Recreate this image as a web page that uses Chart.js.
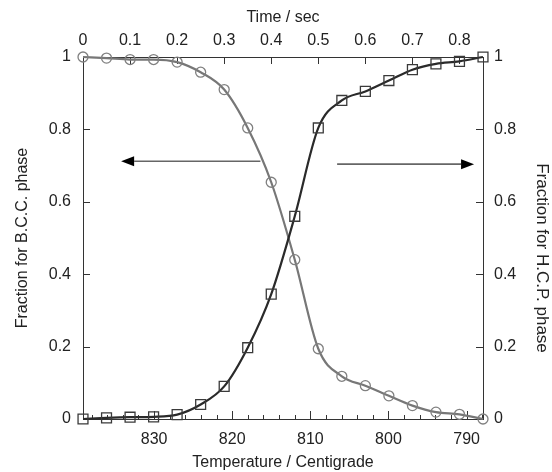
<!DOCTYPE html>
<html>
<head>
<meta charset="utf-8">
<script src="https://cdn.jsdelivr.net/npm/chart.js@4/dist/chart.umd.min.js"></script>
<style>
  html, body { margin: 0; padding: 0; background: #fff; }
  #c { display: block; }
</style>
</head>
<body>
<canvas id="c" width="552" height="472"></canvas>
<script>
// ---- data ----
const timeSec = [0, 0.05, 0.1, 0.15, 0.2, 0.25, 0.3, 0.35, 0.4, 0.45, 0.5, 0.55, 0.6, 0.65, 0.7, 0.75, 0.8, 0.85];
const bccFraction = [1.0, 0.997, 0.993, 0.993, 0.986, 0.958, 0.910, 0.804, 0.654, 0.440, 0.194, 0.118, 0.092, 0.064, 0.037, 0.019, 0.013, 0.0];
const hcpFraction = [0.0, 0.003, 0.005, 0.006, 0.012, 0.040, 0.090, 0.197, 0.345, 0.560, 0.804, 0.880, 0.905, 0.935, 0.965, 0.981, 0.988, 1.0];
const fractionTicks = [0, 0.2, 0.4, 0.6, 0.8, 1];
const timeTicks = [0, 0.1, 0.2, 0.3, 0.4, 0.5, 0.6, 0.7, 0.8];
const temperatureLabels = [830, 820, 810, 800, 790];
const timeRange = [0, 0.85];
const temperatureRange = [787.9, 839.1];
const rightTitle = 'Fraction for H.C.P. phase';
// arrows in data units: [time, fraction] -> [time, fraction]
const arrows = [
  { from: [0.377, 0.712], to: [0.081, 0.712] },
  { from: [0.540, 0.704], to: [0.831, 0.704] }
];

const FONT = { family: '"Liberation Sans", Arial, sans-serif', size: 16, lineHeight: 1.2 };
const TXT = '#222';
const AX = '#333';

function pts(ys) { return timeSec.map((t, i) => ({ x: t, y: ys[i] })); }

const inwardTicks = {
  id: 'inwardTicks',
  beforeDatasetsDraw(chart) {
    const { ctx, chartArea: a, scales } = chart;
    ctx.save();
    ctx.strokeStyle = AX;
    ctx.lineWidth = 1;
    ctx.beginPath();
    scales.xTime.ticks.forEach(t => {
      const x = Math.round(scales.xTime.getPixelForValue(t.value)) + 0.5;
      ctx.moveTo(x, a.top); ctx.lineTo(x, a.top + 7);
    });
    scales.xTemp.ticks.forEach(t => {
      const x = Math.round(scales.xTemp.getPixelForValue(t.value)) + 0.5;
      const major = Math.round(t.value) % 10 === 0;
      ctx.moveTo(x, a.bottom); ctx.lineTo(x, a.bottom - (major ? 8 : 4));
    });
    scales.yL.ticks.forEach(t => {
      const y = Math.round(scales.yL.getPixelForValue(t.value)) + 0.5;
      ctx.moveTo(a.left, y); ctx.lineTo(a.left + 7, y);
    });
    scales.yR.ticks.forEach(t => {
      const y = Math.round(scales.yR.getPixelForValue(t.value)) + 0.5;
      ctx.moveTo(a.right, y); ctx.lineTo(a.right - 7, y);
    });
    ctx.stroke();
    ctx.restore();
  },
  afterDraw(chart) {
    // right axis title (rotated, reading top to bottom)
    const { ctx, chartArea: a } = chart;
    const s = chart.scales.yR;
    ctx.save();
    ctx.fillStyle = TXT;
    ctx.font = '17px "Liberation Sans", Arial, sans-serif';
    ctx.textAlign = 'center';
    ctx.textBaseline = 'middle';
    ctx.translate(s.right - 10.5, (a.top + a.bottom) / 2 + 20);
    ctx.rotate(Math.PI / 2);
    ctx.fillText(rightTitle, 0, 0);
    ctx.restore();
  }
};

const arrowPlugin = {
  id: 'arrowPlugin',
  afterDatasetsDraw(chart) {
    const { ctx, scales } = chart;
    const sx = scales.xTime, sy = scales.yL;
    ctx.save();
    arrows.forEach(ar => {
      const x0 = sx.getPixelForValue(ar.from[0]), y0 = sy.getPixelForValue(ar.from[1]);
      const x1 = sx.getPixelForValue(ar.to[0]), y1 = sy.getPixelForValue(ar.to[1]);
      const ang = Math.atan2(y1 - y0, x1 - x0);
      const L = 13, W = 5;
      const bx = x1 - L * Math.cos(ang), by = y1 - L * Math.sin(ang);
      ctx.strokeStyle = '#666';
      ctx.lineWidth = 1.6;
      ctx.beginPath();
      ctx.moveTo(x0, y0); ctx.lineTo(bx, by);
      ctx.stroke();
      ctx.fillStyle = '#000';
      ctx.beginPath();
      ctx.moveTo(x1, y1);
      ctx.lineTo(bx + W * Math.sin(ang), by - W * Math.cos(ang));
      ctx.lineTo(bx - W * Math.sin(ang), by + W * Math.cos(ang));
      ctx.closePath();
      ctx.fill();
    });
    ctx.restore();
  }
};

const axisCommon = {
  grid: { display: true, drawOnChartArea: false, drawTicks: false },
  border: { display: true, color: AX, width: 1 },
};

new Chart(document.getElementById('c'), {
  type: 'line',
  data: {
    datasets: [
      {
        label: 'H.C.P.',
        data: pts(hcpFraction),
        xAxisID: 'xTime', yAxisID: 'yR',
        borderColor: '#2a2a2a', borderWidth: 2.2,
        pointStyle: 'rect', pointRadius: 7, pointBorderWidth: 1.3,
        pointBorderColor: '#3a3a3a', pointBackgroundColor: 'rgba(0,0,0,0)',
        cubicInterpolationMode: 'monotone', clip: false
      },
      {
        label: 'B.C.C.',
        data: pts(bccFraction),
        xAxisID: 'xTime', yAxisID: 'yL',
        borderColor: '#777', borderWidth: 2.2,
        pointStyle: 'circle', pointRadius: 5, pointBorderWidth: 1.3,
        pointBorderColor: '#808080', pointBackgroundColor: 'rgba(0,0,0,0)',
        cubicInterpolationMode: 'monotone', clip: false
      }
    ]
  },
  options: {
    responsive: false,
    animation: false,
    layout: { padding: 0 },
    plugins: { legend: { display: false }, tooltip: { enabled: false } },
    scales: {
      xTime: {
        type: 'linear', position: 'top',
        min: timeRange[0], max: timeRange[1],
        afterBuildTicks: s => { s.ticks = timeTicks.map(v => ({ value: v })); },
        afterFit: s => { s.height = 57; },
        ticks: { font: FONT, color: TXT, padding: 7, maxRotation: 0, autoSkip: false,
                 callback: v => String(v) },
        title: { display: true, text: 'Time / sec', font: FONT, color: TXT, padding: { top: 8, bottom: 0 } },
        ...axisCommon
      },
      xTemp: {
        type: 'linear', position: 'bottom', reverse: true,
        min: temperatureRange[0], max: temperatureRange[1],
        afterBuildTicks: s => {
          const arr = [];
          for (let v = 788; v <= 838; v += 2) arr.push({ value: v });
          s.ticks = arr;
        },
        afterFit: s => { s.height = 53; },
        ticks: { font: FONT, color: TXT, padding: 11, maxRotation: 0, autoSkip: false,
                 callback: v => temperatureLabels.includes(Math.round(v)) ? String(Math.round(v)) : '' },
        title: { display: true, text: 'Temperature / Centigrade', font: FONT, color: TXT, padding: { top: 0, bottom: 0 } },
        ...axisCommon
      },
      yL: {
        type: 'linear', position: 'left', min: 0, max: 1,
        afterBuildTicks: s => { s.ticks = fractionTicks.map(v => ({ value: v })); },
        afterFit: s => { s.width = 83; },
        ticks: { font: FONT, color: TXT, padding: 12, callback: v => String(v) },
        title: { display: true, text: 'Fraction for B.C.C. phase', font: FONT, color: TXT, padding: { top: 13, bottom: 0 } },
        ...axisCommon
      },
      yR: {
        type: 'linear', position: 'right', min: 0, max: 1,
        afterBuildTicks: s => { s.ticks = fractionTicks.map(v => ({ value: v })); },
        afterFit: s => { s.width = 69; },
        ticks: { font: FONT, color: TXT, padding: 11, callback: v => String(v) },
        title: { display: false },
        ...axisCommon
      }
    }
  },
  plugins: [inwardTicks, arrowPlugin]
});
</script>
</body>
</html>
